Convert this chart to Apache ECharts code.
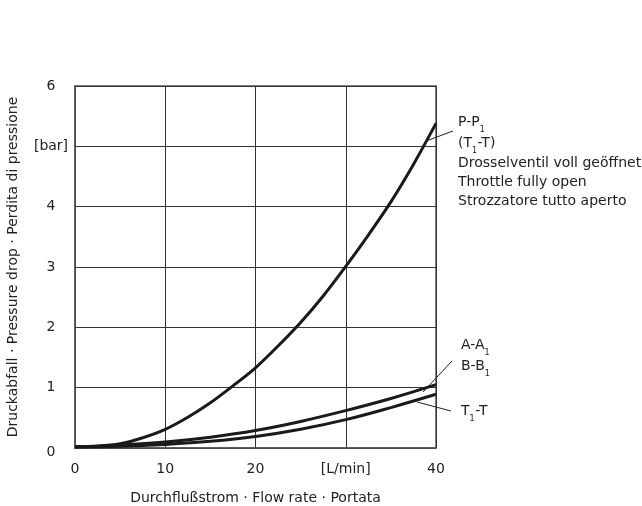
<!DOCTYPE html>
<html>
<head>
<meta charset="utf-8">
<script src="https://cdn.jsdelivr.net/npm/echarts@6/dist/echarts.min.js"></script>
<style>
html,body{margin:0;padding:0;background:#fff;}
#chart{width:642px;height:506px;}
</style>
</head>
<body>
<div id="chart"></div>
<script>
// Flow rate [L/min]
const flowP = [0, 2.5, 5, 7.5, 10, 12.5, 15, 17.5, 20, 22.5, 25, 27.5, 30, 32.5, 35, 37.5, 40];
// P-P1 (T1-T), throttle fully open [bar]
const pressPP1 = [0.02, 0.03, 0.07, 0.17, 0.31, 0.51, 0.75, 1.03, 1.33, 1.69, 2.08, 2.52, 3.01, 3.53, 4.08, 4.70, 5.38];
const flowAB = [0, 5, 10, 15, 20, 25, 30, 35, 40];
// A-A1 / B-B1 [bar]
const pressAB = [0.02, 0.05, 0.10, 0.18, 0.29, 0.44, 0.62, 0.82, 1.05];
const flowT = [0, 5, 10, 15, 20, 25, 30, 35, 40];
// T1-T [bar]
const pressT = [0.02, 0.03, 0.06, 0.11, 0.19, 0.31, 0.47, 0.67, 0.89];

const xTickLabels = {0: '0', 10: '10', 20: '20', 30: '[L/min]', 40: '40'};
const yTickLabels = {0: '0', 1: '1', 2: '2', 3: '3', 4: '4', 5: '[bar]', 6: '6'};

const FONT = 'DejaVu Sans';
const TXT = '#222';
const MAIN = 14, SUB = 8;

function pairs(xs, ys) { return xs.map((x, i) => [x, ys[i]]); }

const mctx = document.createElement('canvas').getContext('2d');
function w(s, size) { mctx.font = size + 'px "' + FONT + '"'; return mctx.measureText(s).width; }

function txt(x, y, s, size) {
  return {type: 'text', x: x, y: y, style: {text: s, fill: TXT, font: size + 'px "' + FONT + '"', textAlign: 'left', textVerticalAlign: 'middle'}};
}
// a line of text made of [string, isSubscript] parts
function subText(x, y, parts) {
  const out = [];
  let cx = x;
  parts.forEach(p => {
    const sub = p[1];
    const size = sub ? SUB : MAIN;
    out.push(txt(cx, sub ? y + 8 : y, p[0], size));
    cx += w(p[0], size) + (sub ? 0.5 : 0);
  });
  return out;
}
function seg(x1, y1, x2, y2) {
  return {type: 'line', shape: {x1: x1, y1: y1, x2: x2, y2: y2}, style: {stroke: '#222', lineWidth: 1}};
}

const chart = echarts.init(document.getElementById('chart'), null, {renderer: 'canvas'});
const lineStyle = {color: '#1a1a1a', width: 3};

const graphics = [
  seg(426, 141, 453, 131),
  seg(423, 392, 452, 361),
  seg(417, 402, 451, 411)
]
  .concat(subText(458, 122, [['P-P', 0], ['1', 1]]))
  .concat(subText(458, 143, [['(T', 0], ['1', 1], ['-T)', 0]]))
  .concat([
    txt(458, 163, 'Drosselventil voll geöffnet', MAIN),
    txt(458, 182, 'Throttle fully open', MAIN),
    txt(458, 201, 'Strozzatore tutto aperto', MAIN)
  ])
  .concat(subText(461, 345, [['A-A', 0], ['1', 1]]))
  .concat(subText(461, 366, [['B-B', 0], ['1', 1]]))
  .concat(subText(461, 411, [['T', 0], ['1', 1], ['-T', 0]]));

chart.setOption({
  animation: false,
  backgroundColor: '#fff',
  grid: {left: 75, right: 206, top: 86, bottom: 58, show: true, borderColor: '#555', borderWidth: 1.5, containLabel: false, outerBoundsMode: 'none'},
  xAxis: {
    type: 'value', min: 0, max: 40, interval: 10,
    name: 'Durchflußstrom · Flow rate · Portata',
    nameLocation: 'middle', nameGap: 43,
    nameTextStyle: {fontFamily: FONT, fontSize: 14, color: TXT},
    axisLine: {show: true, lineStyle: {color: '#555', width: 1.5}},
    axisTick: {show: false},
    axisLabel: {margin: 14, fontFamily: FONT, fontSize: 14, color: TXT, formatter: v => xTickLabels[v]},
    splitLine: {show: true, lineStyle: {color: '#333', width: 1}}
  },
  yAxis: {
    type: 'value', min: 0, max: 6, interval: 1,
    name: 'Druckabfall · Pressure drop · Perdita di pressione',
    nameLocation: 'middle', nameGap: 55,
    nameTextStyle: {fontFamily: FONT, fontSize: 14, color: TXT},
    axisLine: {show: true, lineStyle: {color: '#555', width: 1.5}},
    axisTick: {show: false},
    axisLabel: {
      margin: 24, align: 'center', fontFamily: FONT, fontSize: 14, color: TXT,
      formatter: v => v === 0 ? '{z|0}' : yTickLabels[v],
      rich: {z: {fontFamily: FONT, fontSize: 14, color: TXT, padding: [8, 0, 0, 0]}}
    },
    splitLine: {show: true, lineStyle: {color: '#333', width: 1}}
  },
  series: [
    {type: 'line', name: 'P-P1', data: pairs(flowP, pressPP1), smooth: 0.3, showSymbol: false, symbol: 'none', lineStyle: lineStyle},
    {type: 'line', name: 'A-A1 B-B1', data: pairs(flowAB, pressAB), smooth: 0.4, showSymbol: false, symbol: 'none', lineStyle: lineStyle},
    {type: 'line', name: 'T1-T', data: pairs(flowT, pressT), smooth: 0.4, showSymbol: false, symbol: 'none', lineStyle: lineStyle}
  ],
  graphic: graphics
});
</script>
</body>
</html>
